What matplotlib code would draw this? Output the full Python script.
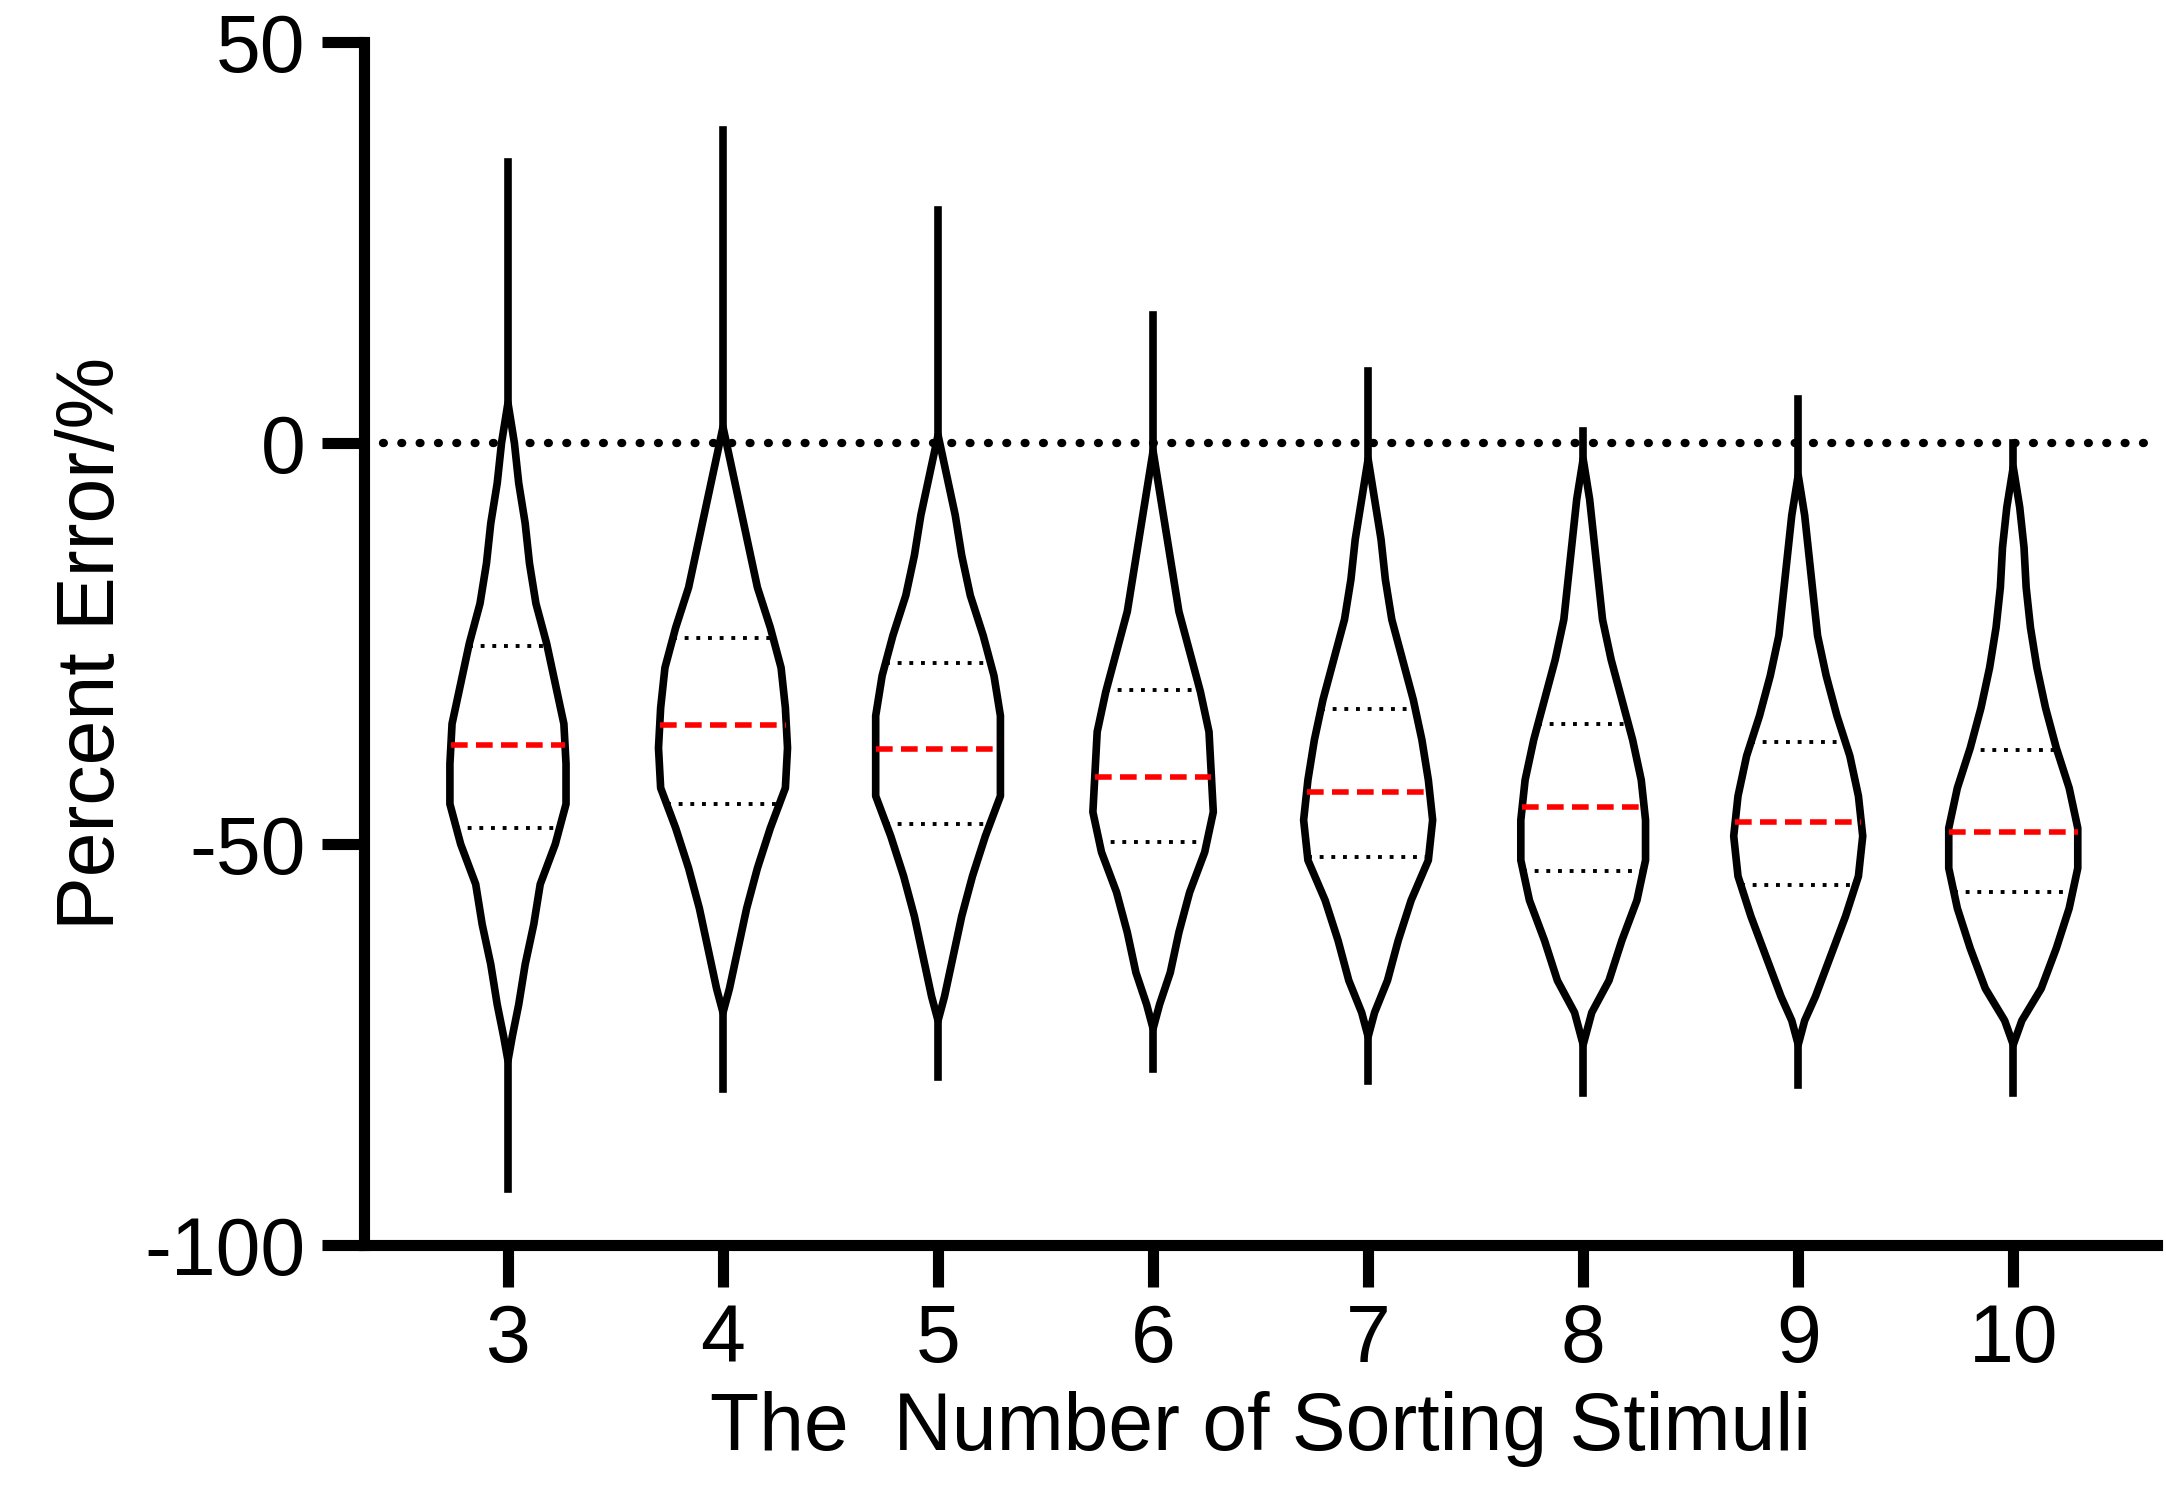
import numpy as np
import matplotlib
matplotlib.use("Agg")
import matplotlib.pyplot as plt

categories = ["3", "4", "5", "6", "7", "8", "9", "10"]
maxs = [35, 39, 29, 16, 9, 1.5, 5.5, 0]
mins = [-93, -80.5, -79, -78, -79.5, -81, -80, -81]
medians = [-37.6, -35.2, -38.1, -41.6, -43.5, -45.4, -47.3, -48.5]
q3s = [-25.3, -24.3, -27.4, -30.8, -33.1, -35.0, -37.3, -38.3]
q1s = [-48.0, -45.0, -47.5, -49.7, -51.6, -53.4, -55.1, -56.0]
prof_y = [
    [5,0,-5,-10,-15,-20,-25,-30,-35,-40,-45,-50,-55,-60,-65,-70,-74,-77],
    [2,-3,-8,-13,-18,-23,-28,-33,-38,-43,-48,-53,-58,-63,-68,-71],
    [1,-4,-9,-14,-19,-24,-29,-34,-39,-44,-49,-54,-59,-64,-69,-72],
    [-1,-6,-11,-16,-21,-26,-31,-36,-41,-46,-51,-56,-61,-66,-70,-73],
    [-2,-7,-12,-17,-22,-27,-32,-37,-42,-47,-52,-57,-62,-67,-71,-74],
    [-2,-7,-12,-17,-22,-27,-32,-37,-42,-47,-52,-57,-62,-67,-71,-75],
    [-4,-9,-14,-19,-24,-29,-34,-39,-44,-49,-54,-59,-64,-69,-72,-75],
    [-3,-8,-13,-18,-23,-28,-33,-38,-43,-48,-53,-58,-63,-68,-72,-75],
]
prof_w = [
    [0,.03,.05,.08,.10,.13,.18,.22,.26,.27,.27,.22,.15,.12,.08,.05,.02,0],
    [0,.04,.08,.12,.16,.22,.27,.29,.30,.29,.22,.16,.11,.07,.03,0],
    [0,.04,.08,.11,.15,.21,.26,.29,.29,.29,.22,.16,.11,.07,.03,0],
    [0,.03,.06,.09,.12,.17,.22,.26,.27,.28,.24,.17,.12,.08,.03,0],
    [0,.03,.06,.08,.11,.16,.21,.25,.28,.30,.28,.20,.14,.09,.03,0],
    [0,.03,.05,.07,.09,.13,.18,.23,.27,.29,.29,.25,.18,.12,.04,0],
    [0,.03,.05,.07,.09,.13,.18,.24,.28,.30,.28,.22,.15,.08,.03,0],
    [0,.03,.05,.06,.08,.11,.15,.20,.26,.30,.30,.26,.20,.13,.04,0],
]

plt.rcParams['font.family'] = ['Liberation Sans', 'DejaVu Sans']
plt.rcParams['axes.unicode_minus'] = False
fig = plt.figure(figsize=(21.66, 15.02), dpi=100)
ax = fig.add_axes([0.168, 0.171, 0.828, 0.801])
ax.set_xlim(-0.67, 7.67)
ax.set_ylim(-100, 50)

ax.plot([-0.58, 7.67], [0, 0], color='black', lw=6, ls=(0, (0.1, 2.1)), dash_capstyle='round', zorder=1)

for i in range(len(categories)):
    y = np.array(prof_y[i], float)
    w = np.array(prof_w[i], float)
    ax.plot([i, i], [mins[i], maxs[i]], color='black', lw=5.5, zorder=2)
    xs = np.concatenate([i - w, (i + w)[::-1]])
    ys = np.concatenate([y, y[::-1]])
    ax.fill(xs, ys, facecolor='white', edgecolor='black', lw=5.5, joinstyle='round', zorder=3)
    yr, wr = y[::-1], w[::-1]
    for q in (q1s[i], q3s[i]):
        hw = np.interp(q, yr, wr)
        ax.plot([i - hw, i + hw], [q, q], color='black', lw=2.8, ls=(0, (1, 2)), zorder=4)
    hw = np.interp(medians[i], yr, wr)
    ax.plot([i - hw, i + hw], [medians[i], medians[i]], color='#ff0000', lw=4, ls=(0, (3, 1.5)), zorder=4)

for s in ('top', 'right'):
    ax.spines[s].set_visible(False)
for s in ('left', 'bottom'):
    ax.spines[s].set_linewidth(8)
ax.set_yticks([-100, -50, 0, 50])
ax.set_xticks(range(len(categories)))
ax.set_xticklabels(categories)
ax.tick_params(axis='both', width=8, length=30, labelsize=58, pad=12)
ax.set_xlabel("The  Number of Sorting Stimuli", fontsize=58, labelpad=8)
ax.set_ylabel("Percent Error/%", fontsize=58, labelpad=10)
fig.savefig("out.png", dpi=100)
